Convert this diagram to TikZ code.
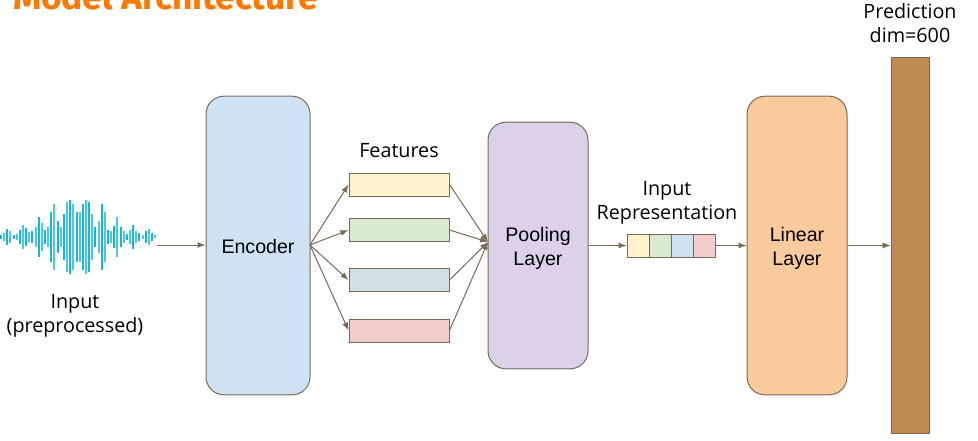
\documentclass[tikz,border=0pt]{standalone}
\usepackage{fontspec}
\setmainfont{Open Sans}
\newfontfamily\boxfont{Liberation Sans}
\newfontfamily\titlefont{Fira Sans}
\usetikzlibrary{arrows.meta}
\definecolor{edgecol}{HTML}{776B58}
\definecolor{wavecol}{HTML}{19B6D0}
\definecolor{wavelight}{HTML}{4CC8DC}
\tikzset{
  x=0.75pt, y=-0.75pt,
  block/.style={draw=edgecol, line width=0.75pt, rounded corners=13.5pt, inner sep=0pt, font=\boxfont\fontsize{14.7pt}{18pt}\selectfont, text=black, align=center},
  feature/.style={draw=edgecol, line width=0.75pt, minimum width=75pt, minimum height=17.25pt, inner sep=0pt},
  cell/.style={draw=edgecol, line width=0.75pt, minimum width=16.5pt, minimum height=17.25pt, inner sep=0pt},
  caption/.style={font=\fontsize{14.8pt}{18pt}\selectfont, text=black, align=center, inner sep=0pt},
  link/.style={draw=edgecol, line width=0.75pt, -{Latex[length=6pt,width=4.5pt]}},
}
\begin{document}
\begin{tikzpicture}
\useasboundingbox (0,0) rectangle (978,440);
\fill[white] (0,0) rectangle (978,440);
\begin{scope}
\clip (0,0) rectangle (978,440);
\node[anchor=base west, inner sep=0pt, text=orange!95!red, font=\titlefont\bfseries\fontsize{26.5pt}{30pt}\selectfont] (title) at (13,9) {Model Architecture};
\end{scope}

% audio waveform, one bar per value of half-height
\foreach \i/\h [count=\n] in {0/2,3.1/4,6.1/8,9.3/6,12.6/2,15.7/3,18.7/7,22/12,25/9,28.3/5,31.3/6,34.7/10,37.7/20,41/14,44/7,47/10,50.3/25,53.3/33,56.7/16,60/10,63/23,66/35,69.3/37,72.3/33,75.7/25,78.7/25,81.7/33,85/37,88/35,91.3/23,94.3/10,97.7/16,100.7/33,104/25,107/7,110/6,113.3/11,116.3/20,119.7/10,122.7/6,126/3,129/7,132/12,135.3/6,138.3/4,141.7/2,144.7/6,147.7/8,151/4,154/1.5}{
  \pgfmathtruncatemacro{\odd}{mod(\n,2)}
  \ifnum\odd=1 \def\barcol{wavecol}\else\def\barcol{wavelight}\fi
  \draw[draw=\barcol, line width=1.5pt] (1+\i,236.7-\h) -- (1+\i,236.7+\h);
}
\coordinate (waveout) at (157,245);

% the struts push the box labels slightly below centre
\node[block, fill={rgb,255:red,207;green,226;blue,243}, minimum width=78pt, minimum height=224pt] (enc) at (258,245.5) {\rule{0pt}{12pt}Encoder};
\node[block, fill={rgb,255:red,217;green,210;blue,233}, minimum width=75pt, minimum height=185pt] (pool) at (538,245.5) {\rule{0pt}{14.5pt}Pooling\\Layer};
\node[block, fill={rgb,255:red,249;green,203;blue,156}, minimum width=75pt, minimum height=224pt] (lin) at (797,245.5) {\rule{0pt}{14.5pt}Linear\\Layer};
\node[draw=edgecol, line width=0.75pt, fill={rgb,255:red,191;green,138;blue,82}, minimum width=29pt, minimum height=282pt, inner sep=0pt] (pred) at (910.5,245.5) {};

\node[feature, fill={rgb,255:red,255;green,242;blue,204}] (f1) at (399,184.5) {};
\node[feature, fill={rgb,255:red,217;green,234;blue,211}] (f2) at (399,230) {};
\node[feature, fill={rgb,255:red,208;green,224;blue,227}] (f3) at (399,280) {};
\node[feature, fill={rgb,255:red,244;green,204;blue,204}] (f4) at (399,330.5) {};

\node[cell, fill={rgb,255:red,255;green,242;blue,204}] (r1) at (638,245.5) {};
\node[cell, fill={rgb,255:red,217;green,234;blue,211}] (r2) at (660,245.5) {};
\node[cell, fill={rgb,255:red,207;green,226;blue,243}] (r3) at (682,245.5) {};
\node[cell, fill={rgb,255:red,244;green,204;blue,204}] (r4) at (704,245.5) {};

\node[caption] (lfeat) at (399,151) {Features};
\node[caption] (lrep) at (667,203) {Input\\Representation};
\node[caption] (linp) at (75,316) {Input\\(preprocessed)};
\node[caption] (lpred) at (910,23) {Prediction\\dim=600};

\coordinate (encout) at (310,245);
\coordinate (poolin) at (488,242);
\draw[link] (waveout) -- (enc.west |- waveout);
\foreach \k in {1,2,3,4}{
  \draw[link] (encout) -- (f\k.west);
  \draw[link] (f\k.east) -- (poolin);
}
\draw[link] (pool.east) -- (r1.west);
\draw[link] (r4.east) -- (lin.west);
\draw[link] (lin.east) -- (pred.west);
\end{tikzpicture}
\end{document}
